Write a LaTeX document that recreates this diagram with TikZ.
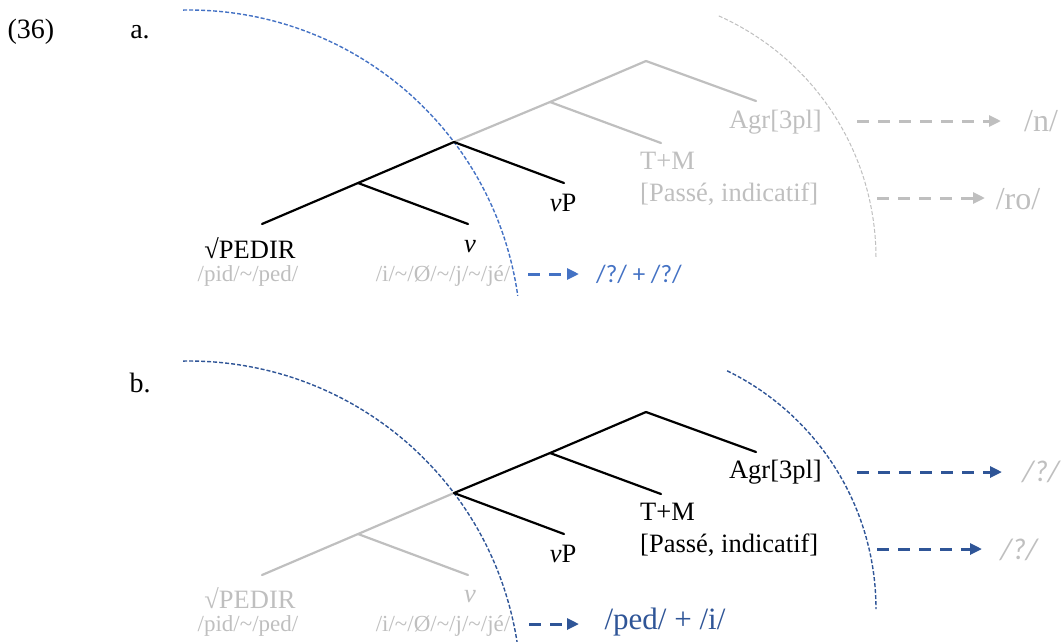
\documentclass[tikz,border=0pt]{standalone}
\usepackage{fontspec}
\setmainfont{Liberation Serif}
\newfontfamily\calib{Carlito}
\usetikzlibrary{arrows.meta}
\definecolor{lgray}{HTML}{BFBFBF}
\definecolor{mblue}{HTML}{4472C4}
\definecolor{dblue}{HTML}{2F5597}
\tikzset{
  branch/.style={line width=2.2pt, line cap=round},
  graybranch/.style={branch, lgray},
  blackbranch/.style={branch, black},
  lbl/.style={inner sep=0pt, font=\fontsize{26.5}{30}\selectfont},
  rootlbl/.style={lbl, anchor=base, text depth=0pt},
  small/.style={inner sep=0pt, anchor=base, font=\fontsize{23}{26}\selectfont, text=lgray},
  numlbl/.style={inner sep=0pt, font=\fontsize{28}{32}\selectfont},
  outarrow/.style={line width=3pt, dash pattern=on 12pt off 9pt, -{Triangle[length=12pt,width=11pt]}},
  bluearc/.style={line width=1.4pt, dash pattern=on 4pt off 2pt},
  grayarc/.style={line width=1pt, dash pattern=on 4pt off 2pt, lgray},
}
\begin{document}
\begin{tikzpicture}[x=1pt, y=-1pt]
\useasboundingbox (0,0) rectangle (1064,641);

% labels
\node[numlbl] (num) at (31,32) {(36)};
\node[numlbl] (la) at (140,32) {a.};
\node[numlbl] (lb) at (140,383) {b.};

% ---------------- part a ----------------
\draw[bluearc, mblue] plot[domain=-91:-8, samples=90] ({189+332*cos(\x)},{342+332*sin(\x)});
\draw[grayarc] plot[domain=-66:0, samples=90] ({611+265*cos(\x)},{258+265*sin(\x)});

\coordinate (aR) at (646,61);
\coordinate (aM) at (550,102);
\coordinate (aV) at (454,142);
\coordinate (aAg) at (756,101);
\coordinate (aTM) at (661,143);
\coordinate (avP) at (564,183);
\coordinate (aN) at (358,183);
\coordinate (aPe) at (262,224);
\coordinate (av) at (468,224);

\draw[graybranch] (aR) -- (aM) -- (aV);
\draw[graybranch] (aR) -- (aAg);
\draw[graybranch] (aM) -- (aTM);
\draw[blackbranch] (aV) -- (avP);
\draw[blackbranch] (aV) -- (aN) -- (aPe);
\draw[blackbranch] (aN) -- (av);

\node[lbl, text=lgray, anchor=east] (aAgr) at (822,122) {Agr[3pl]};
\node[lbl, text=lgray, anchor=west] (aTpM) at (640,161) {T+M};
\node[lbl, text=lgray, anchor=west] (aPass) at (640,194) {[Passé, indicatif]};
\node[lbl] (avPl) at (563,203) {\textit{v}P};
\node[rootlbl] (aPED) at (250,258) {√PEDIR};
\node[small] (apid) at (248,281) {/pid/\char"007E/ped/};
\node[lbl] (avl) at (470,247) {\textit{v}};
\node[small] (ai) at (443,281) {/i/\char"007E/Ø/\char"007E/j/\char"007E/jé/};

\coordinate (aA1s) at (857,121);
\coordinate (aA1e) at (1001,121);
\coordinate (aA2s) at (877,198);
\coordinate (aA2e) at (985,198);
\coordinate (aA3s) at (528,274);
\coordinate (aA3e) at (579,274);
\draw[outarrow, lgray] (aA1s) -- (aA1e);
\draw[outarrow, lgray] (aA2s) -- (aA2e);
\draw[outarrow, mblue] (aA3s) -- (aA3e);
\node[inner sep=0pt, font=\fontsize{32}{36}\selectfont, text=lgray] (an) at (1041,121) {/n/};
\node[inner sep=0pt, font=\fontsize{32}{36}\selectfont, text=lgray] (aro) at (1018,199) {/ro/};
\node[inner sep=0pt, font=\calib\fontsize{25}{30}\selectfont, text=mblue] (aq) at (639,274) {/?/ + /?/};

% ---------------- part b ----------------
\draw[bluearc, dblue] plot[domain=-91:-6, samples=90] ({189+332*cos(\x)},{693+332*sin(\x)});
\draw[bluearc, dblue] plot[domain=-64:0, samples=90] ({611+265*cos(\x)},{609+265*sin(\x)});

\coordinate (bR) at (646,412);
\coordinate (bM) at (550,453);
\coordinate (bV) at (454,493);
\coordinate (bAg) at (756,452);
\coordinate (bTM) at (661,494);
\coordinate (bvP) at (564,534);
\coordinate (bN) at (358,534);
\coordinate (bPe) at (262,575);
\coordinate (bv) at (468,575);

\draw[graybranch] (bV) -- (bN) -- (bPe);
\draw[graybranch] (bN) -- (bv);
\draw[blackbranch] (bR) -- (bM) -- (bV);
\draw[blackbranch] (bR) -- (bAg);
\draw[blackbranch] (bM) -- (bTM);
\draw[blackbranch] (bV) -- (bvP);

\node[lbl, anchor=east] (bAgr) at (822,472) {Agr[3pl]};
\node[lbl, anchor=west] (bTpM) at (640,512) {T+M};
\node[lbl, anchor=west] (bPass) at (640,545) {[Passé, indicatif]};
\node[lbl] (bvPl) at (563,554) {\textit{v}P};
\node[rootlbl, text=lgray] (bPED) at (250,608) {√PEDIR};
\node[small] (bpid) at (248,631) {/pid/\char"007E/ped/};
\node[lbl, text=lgray] (bvl) at (470,597) {\textit{v}};
\node[small] (bi) at (443,631) {/i/\char"007E/Ø/\char"007E/j/\char"007E/jé/};

\coordinate (bA1s) at (857,472);
\coordinate (bA1e) at (1002,472);
\coordinate (bA2s) at (877,549);
\coordinate (bA2e) at (982,549);
\coordinate (bA3s) at (529,624);
\coordinate (bA3e) at (579,624);
\draw[outarrow, dblue] (bA1s) -- (bA1e);
\draw[outarrow, dblue] (bA2s) -- (bA2e);
\draw[outarrow, dblue] (bA3s) -- (bA3e);
\node[inner sep=0pt, font=\calib\itshape\fontsize{30}{34}\selectfont, text=lgray] (bq1) at (1041,472) {/?/};
\node[inner sep=0pt, font=\calib\itshape\fontsize{30}{34}\selectfont, text=lgray] (bq2) at (1019,550) {/?/};
\node[inner sep=0pt, font=\fontsize{31}{36}\selectfont, text=dblue] (bped) at (665,622) {/ped/ + /i/};
\end{tikzpicture}
\end{document}
